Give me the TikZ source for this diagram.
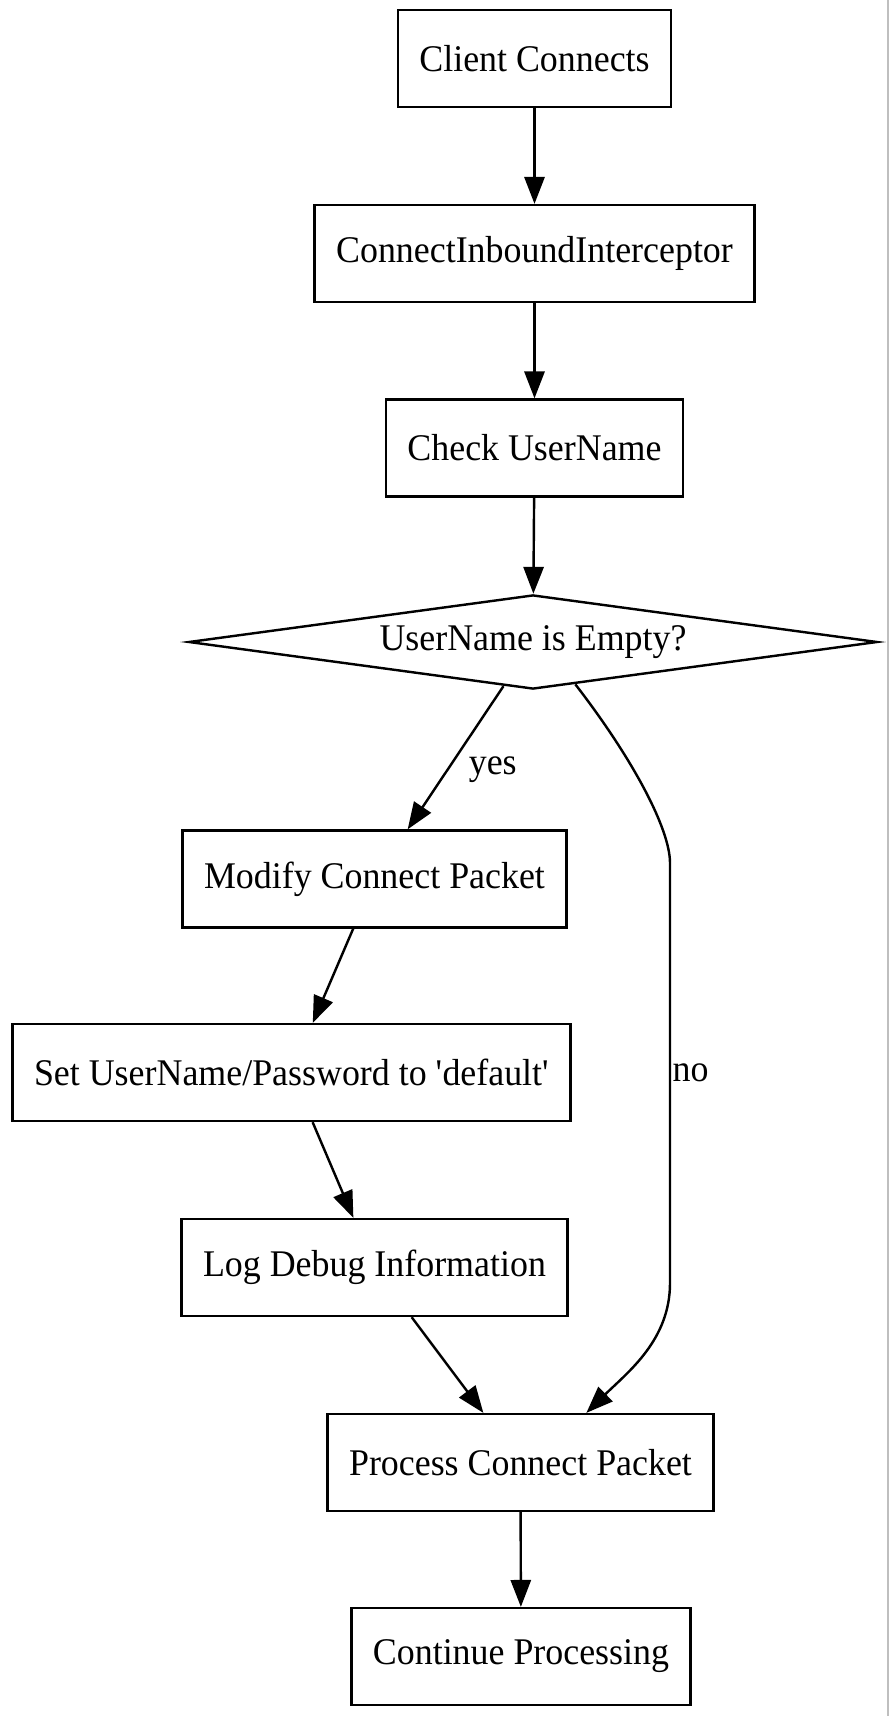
\documentclass[tikz,border=0pt]{standalone}
\usepackage{fontspec}
\setmainfont{Liberation Serif}[FakeStretch=0.953]
\usetikzlibrary{shapes.geometric,arrows.meta}
\begin{document}
\begin{tikzpicture}[->, >={Triangle[length=10pt,width=7.5pt]}, x=0.3717pt, y=-0.3717pt, line width=0.9pt]
                \tikzstyle{stepbox}=[rectangle, draw, minimum height=36pt, inner xsep=8pt, font=\fontsize{14pt}{16pt}\selectfont]
                \tikzstyle{check}=[diamond, draw, aspect=7.3, inner sep=0pt, minimum width=256pt, minimum height=35pt, font=\fontsize{14pt}{16pt}\selectfont]
                \tikzstyle{elabel}=[font=\fontsize{14pt}{16pt}\selectfont]

                \useasboundingbox (0,0) rectangle (890,1716);
                \draw[-, draw=black!25, line width=0.7pt] (888,0) -- (888,1716);

                \node[stepbox] (cc) at (534.5, 58.5) {Client Connects};
                \node[stepbox] (ci) at (534.5, 253.5) {ConnectInboundInterceptor};
                \node[stepbox] (cu) at (534.5, 448) {Check UserName};
                \node[check] (ue) at (533, 642) {UserName is Empty?};
                \node[stepbox] (mp) at (374.5, 879) {Modify Connect Packet};
                \node[stepbox] (sp) at (291.5, 1072.5) {Set UserName/Password to \textquotesingle default\textquotesingle};
                \node[stepbox] (ld) at (374.5, 1267.5) {Log Debug Information};
                \node[stepbox] (pp) at (520.5, 1462.5) {Process Connect Packet};
                \node[stepbox] (cp) at (521, 1656.5) {Continue Processing};

                \path (cc) edge (ci);
                \path (ci) edge (cu);
                \path (cu) edge (ue);
                \path (ue) edge node[pos=0.58, right, xshift=4pt, elabel] {yes} (mp);
                \path (mp) edge (sp);
                \path (sp) edge (ld);
                \path (ld) edge (pp);
                \draw (ue.-45) .. controls (633, 759) and (670, 829) .. (670, 863)
                    -- node[pos=0.5, anchor=west, inner sep=0.5pt, elabel] {no} (670, 1283)
                    .. controls (670, 1340) and (628, 1372) .. (pp.37);
                \path (pp) edge (cp);
            \end{tikzpicture}
\end{document}
